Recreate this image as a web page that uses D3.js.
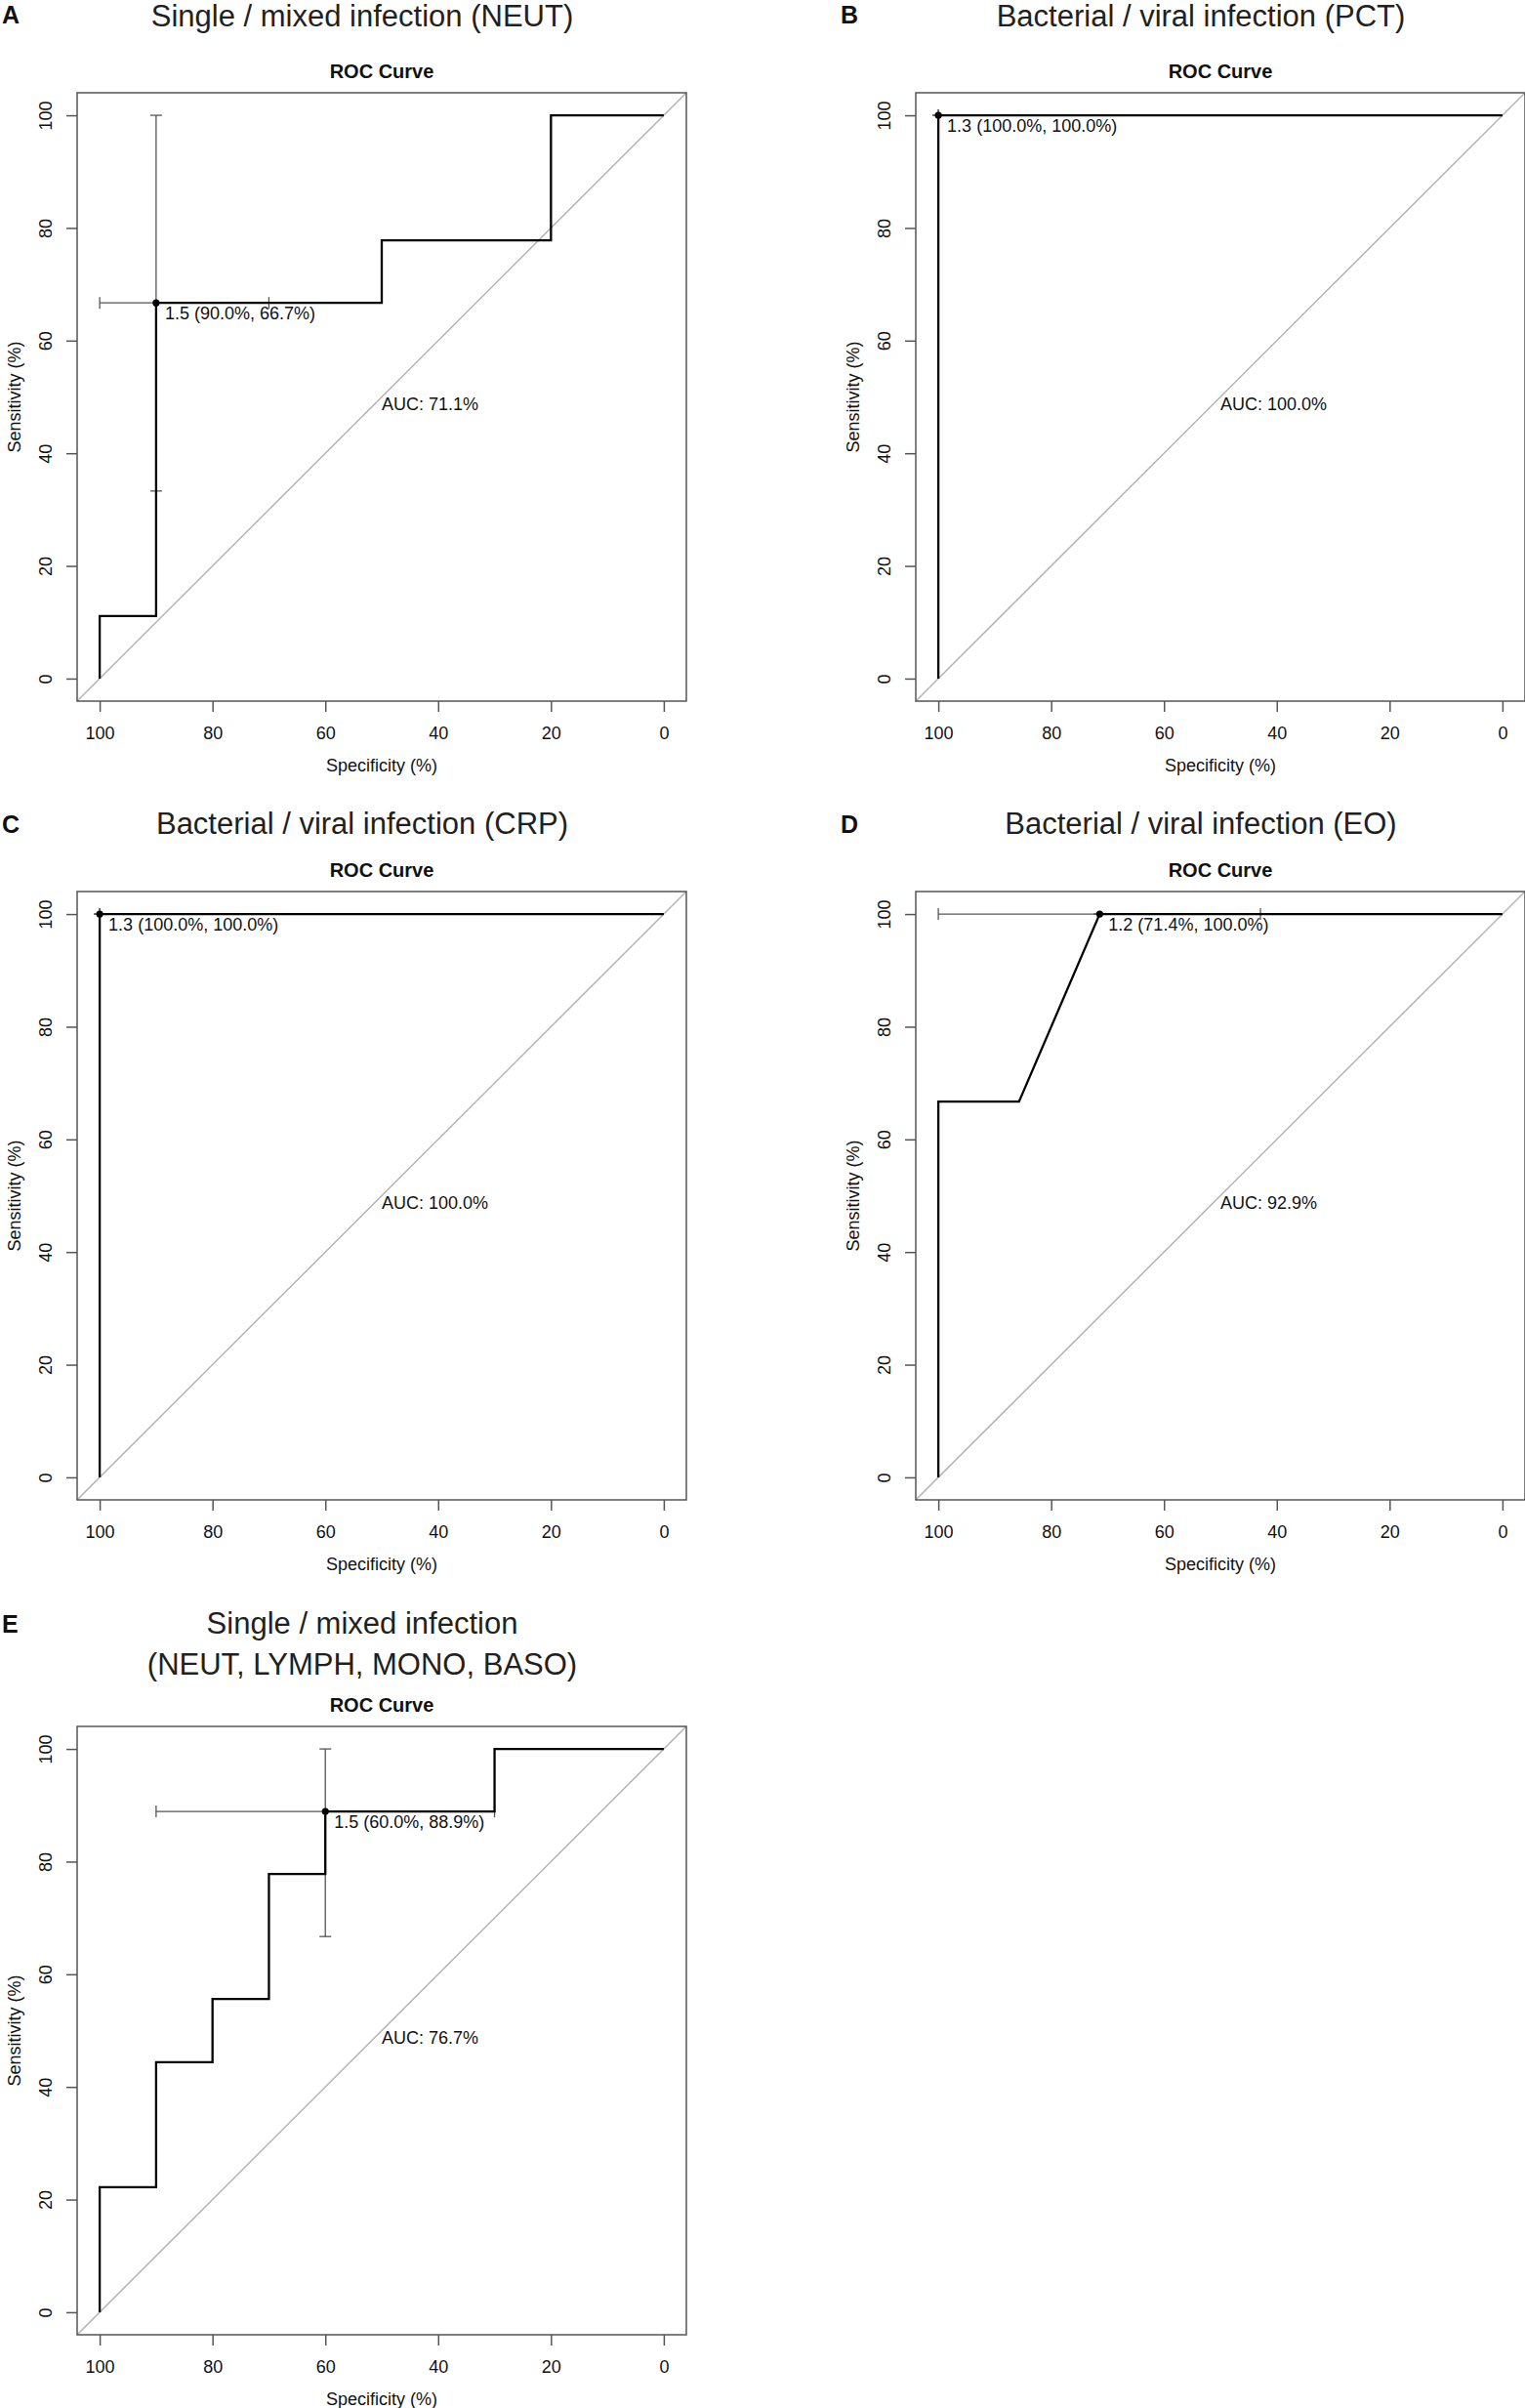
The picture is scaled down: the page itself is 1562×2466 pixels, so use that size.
<!DOCTYPE html>
<html>
<head>
<meta charset="utf-8">
<script src="https://cdn.jsdelivr.net/npm/d3@7"></script>
<style>
  html, body { margin: 0; padding: 0; background: #fff; }
  svg { display: block; }
  text { font-family: "Liberation Sans", Arial, Helvetica, sans-serif; }
</style>
</head>
<body>
<script>
// ---------------- data ----------------
const panelLetters = ["A", "B", "C", "D", "E"];
const panelTitles = [
  ["Single / mixed infection (NEUT)"],
  ["Bacterial / viral infection (PCT)"],
  ["Bacterial / viral infection (CRP)"],
  ["Bacterial / viral infection (EO)"],
  ["Single / mixed infection", "(NEUT, LYMPH, MONO, BASO)"]
];
const plotTitle = "ROC Curve";
const xAxisTitle = "Specificity (%)";
const yAxisTitle = "Sensitivity (%)";
const tickValues = [0, 20, 40, 60, 80, 100];

// ROC curves: specificity (%) and sensitivity (%)
const rocSpecA = [100, 100, 90, 90, 50, 50, 20, 20, 0];
const rocSensA = [0, 11.1, 11.1, 66.7, 66.7, 77.8, 77.8, 100, 100];
const rocSpecB = [100, 100, 0];
const rocSensB = [0, 100, 100];
const rocSpecC = [100, 100, 0];
const rocSensC = [0, 100, 100];
const rocSpecD = [100, 100, 85.7, 71.4, 0];
const rocSensD = [0, 66.7, 66.7, 100, 100];
const rocSpecE = [100, 100, 90, 90, 80, 80, 70, 70, 60, 60, 30, 30, 0];
const rocSensE = [0, 22.2, 22.2, 44.4, 44.4, 55.6, 55.6, 77.8, 77.8, 88.9, 88.9, 100, 100];
const rocSpec = [rocSpecA, rocSpecB, rocSpecC, rocSpecD, rocSpecE];
const rocSens = [rocSensA, rocSensB, rocSensC, rocSensD, rocSensE];

// best threshold and its confidence intervals
const bestSpec = [90, 100, 100, 71.4, 60];
const bestSens = [66.7, 100, 100, 100, 88.9];
const thresholdLabels = [
  "1.5 (90.0%, 66.7%)",
  "1.3 (100.0%, 100.0%)",
  "1.3 (100.0%, 100.0%)",
  "1.2 (71.4%, 100.0%)",
  "1.5 (60.0%, 88.9%)"
];
const specCI = [[70, 100], [100, 100], [100, 100], [42.9, 100], [30, 90]];
const sensCI = [[33.3, 100], [100, 100], [100, 100], [100, 100], [66.7, 100]];
const aucLabels = ["AUC: 71.1%", "AUC: 100.0%", "AUC: 100.0%", "AUC: 92.9%", "AUC: 76.7%"];

// ---------------- layout ----------------
const W = 1562, H = 2466;
const layout = [
  { dx: 0,   dy: 0,    letterY: 24,   titleY: [27] },
  { dx: 859, dy: 0,    letterY: 24,   titleY: [27] },
  { dx: 0,   dy: 818,  letterY: 853,  titleY: [854] },
  { dx: 859, dy: 818,  letterY: 853,  titleY: [854] },
  { dx: 0,   dy: 1673, letterY: 1672, titleY: [1673, 1715] }
];
const box = { left: 79, right: 703, top: 95, bottom: 718 };
const capHalf = 6;

const svg = d3.select("body").append("svg")
  .attr("width", W).attr("height", H)
  .attr("viewBox", `0 0 ${W} ${H}`);
svg.append("rect").attr("width", W).attr("height", H).attr("fill", "#fff");

panelLetters.forEach((letter, i) => {
  const L = layout[i];
  const g = svg.append("g");
  const x = d3.scaleLinear().domain([104, -4]).range([L.dx + box.left, L.dx + box.right]);
  const y = d3.scaleLinear().domain([-4, 104]).range([L.dy + box.bottom, L.dy + box.top]);

  // panel letter
  g.append("text")
    .attr("x", L.dx + 2).attr("y", L.letterY)
    .attr("font-size", 25).attr("font-weight", "bold").attr("fill", "#111")
    .text(letter);

  // panel title
  panelTitles[i].forEach((line, k) => {
    g.append("text")
      .attr("x", L.dx + 371).attr("y", L.titleY[k])
      .attr("text-anchor", "middle")
      .attr("font-size", 31).attr("fill", "#231f20")
      .text(line);
  });

  // ROC Curve title
  g.append("text")
    .attr("x", (x.range()[0] + x.range()[1]) / 2).attr("y", L.dy + 80)
    .attr("text-anchor", "middle")
    .attr("font-size", 20).attr("font-weight", "bold").attr("fill", "#111")
    .text(plotTitle);

  // diagonal (identity line) across the whole plot region
  g.append("line")
    .attr("x1", x(104)).attr("y1", y(-4))
    .attr("x2", x(-4)).attr("y2", y(104))
    .attr("stroke", "#b3b3b3").attr("stroke-width", 1.5);

  // x axis
  const xAxis = g.append("g")
    .attr("transform", `translate(0,${L.dy + box.bottom})`)
    .call(d3.axisBottom(x).tickValues(tickValues).tickSize(11).tickFormat(d3.format("d")));
  xAxis.select(".domain").remove();
  xAxis.selectAll(".tick line").attr("stroke", "#555").attr("stroke-width", 1.5);
  xAxis.selectAll(".tick text")
    .attr("y", 39).attr("dy", 0)
    .attr("font-size", 18).attr("fill", "#111")
    .attr("font-family", "Liberation Sans, Arial, sans-serif");

  // y axis
  const yAxis = g.append("g")
    .attr("transform", `translate(${L.dx + box.left},0)`)
    .call(d3.axisLeft(y).tickValues(tickValues).tickSize(11).tickFormat(d3.format("d")));
  yAxis.select(".domain").remove();
  yAxis.selectAll(".tick line").attr("stroke", "#555").attr("stroke-width", 1.5);
  yAxis.selectAll(".tick text")
    .attr("x", 0).attr("y", -26).attr("dy", 0)
    .attr("text-anchor", "middle")
    .attr("transform", "rotate(-90)")
    .attr("font-size", 18).attr("fill", "#111")
    .attr("font-family", "Liberation Sans, Arial, sans-serif");

  // frame
  g.append("rect")
    .attr("x", x(104)).attr("y", y(104))
    .attr("width", x(-4) - x(104)).attr("height", y(-4) - y(104))
    .attr("fill", "none").attr("stroke", "#555").attr("stroke-width", 1.5);

  // axis titles
  g.append("text")
    .attr("x", (x.range()[0] + x.range()[1]) / 2).attr("y", L.dy + 790)
    .attr("text-anchor", "middle").attr("font-size", 18).attr("fill", "#111")
    .text(xAxisTitle);
  g.append("text")
    .attr("transform", `translate(${L.dx + 21},${(y(0) + y(100)) / 2}) rotate(-90)`)
    .attr("text-anchor", "middle").attr("font-size", 18).attr("fill", "#111")
    .text(yAxisTitle);

  // confidence interval bars
  const ciColor = "#555";
  const bs = bestSpec[i], bt = bestSens[i];
  const hy = y(bt);
  g.append("line")
    .attr("x1", x(specCI[i][0])).attr("x2", x(specCI[i][1]))
    .attr("y1", hy).attr("y2", hy)
    .attr("stroke", ciColor).attr("stroke-width", 1.3);
  specCI[i].forEach(v => {
    g.append("line")
      .attr("x1", x(v)).attr("x2", x(v))
      .attr("y1", hy - capHalf).attr("y2", hy + capHalf)
      .attr("stroke", ciColor).attr("stroke-width", 1.3);
  });
  const vx = x(bs);
  g.append("line")
    .attr("x1", vx).attr("x2", vx)
    .attr("y1", y(sensCI[i][0])).attr("y2", y(sensCI[i][1]))
    .attr("stroke", ciColor).attr("stroke-width", 1.3);
  sensCI[i].forEach(v => {
    g.append("line")
      .attr("x1", vx - capHalf).attr("x2", vx + capHalf)
      .attr("y1", y(v)).attr("y2", y(v))
      .attr("stroke", ciColor).attr("stroke-width", 1.3);
  });

  // ROC curve
  const pts = rocSpec[i].map((s, k) => [s, rocSens[i][k]]);
  g.append("path")
    .datum(pts)
    .attr("d", d3.line().x(d => x(d[0])).y(d => y(d[1])))
    .attr("fill", "none").attr("stroke", "#000").attr("stroke-width", 2.3)
    .attr("stroke-linejoin", "miter");

  // best threshold point and label
  g.append("circle")
    .attr("cx", x(bs)).attr("cy", y(bt)).attr("r", 3.6).attr("fill", "#000");
  g.append("text")
    .attr("x", x(bs) + 9).attr("y", y(bt) + 16.5)
    .attr("font-size", 18).attr("fill", "#111")
    .text(thresholdLabels[i]);

  // AUC label
  g.append("text")
    .attr("x", x(50)).attr("y", y(50) + 13)
    .attr("font-size", 18).attr("fill", "#111")
    .text(aucLabels[i]);
});
</script>
</body>
</html>
